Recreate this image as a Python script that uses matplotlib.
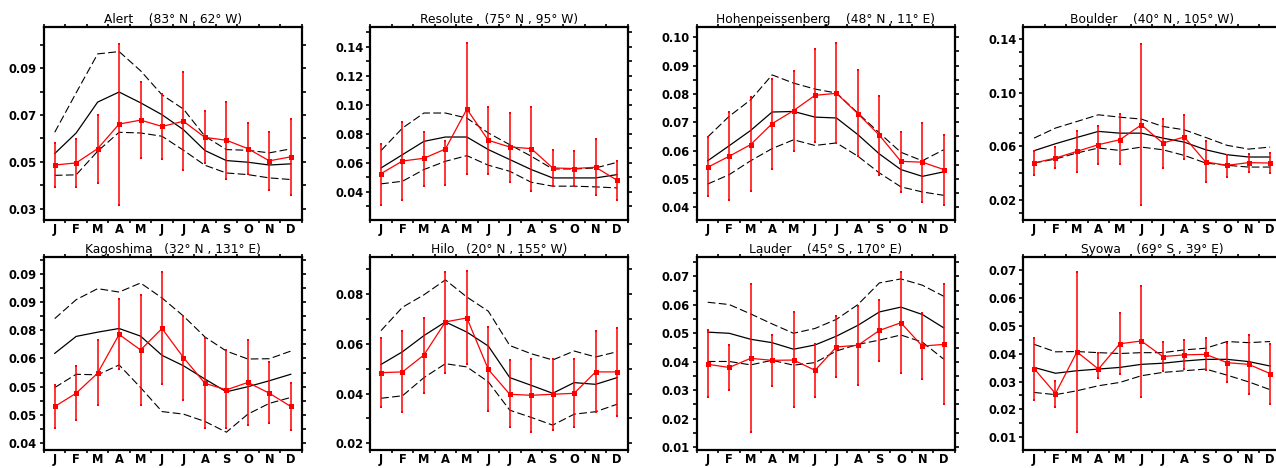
import numpy as np
import matplotlib
matplotlib.use("Agg")
import matplotlib.pyplot as plt
from matplotlib.ticker import FixedLocator, MultipleLocator

months = ["J", "F", "M", "A", "M", "J", "J", "A", "S", "O", "N", "D"]

titles = [
    "Alert    (83\u00b0 N , 62\u00b0 W)",
    "Resolute   (75\u00b0 N , 95\u00b0 W)",
    "Hohenpeissenberg    (48\u00b0 N , 11\u00b0 E)",
    "Boulder    (40\u00b0 N , 105\u00b0 W)",
    "Kagoshima   (32\u00b0 N , 131\u00b0 E)",
    "Hilo   (20\u00b0 N , 155\u00b0 W)",
    "Lauder    (45\u00b0 S , 170\u00b0 E)",
    "Syowa    (69\u00b0 S , 39\u00b0 E)",
]

# model mean (black solid)
model_alert = [0.0535, 0.0623, 0.0755, 0.0798, 0.0752, 0.0701, 0.0637, 0.0548, 0.0505, 0.0498, 0.0486, 0.0491]
model_resolute = [0.0563, 0.0655, 0.0747, 0.0777, 0.0777, 0.0690, 0.0621, 0.0552, 0.0494, 0.0494, 0.0494, 0.0517]
model_hohen = [0.0564, 0.0617, 0.0671, 0.0736, 0.0738, 0.0718, 0.0715, 0.0656, 0.0588, 0.0533, 0.0509, 0.0525]
model_boulder = [0.0566, 0.0618, 0.0665, 0.0710, 0.0697, 0.0697, 0.0660, 0.0630, 0.0573, 0.0536, 0.0519, 0.0519]
model_kago = [0.0718, 0.0778, 0.0793, 0.0806, 0.0779, 0.0711, 0.0674, 0.0627, 0.0582, 0.0600, 0.0621, 0.0644]
model_hilo = [0.0517, 0.0568, 0.0633, 0.0688, 0.0647, 0.0591, 0.0464, 0.0433, 0.0401, 0.0444, 0.0437, 0.0464]
model_lauder = [0.0504, 0.0500, 0.0479, 0.0467, 0.0444, 0.0459, 0.0490, 0.0528, 0.0575, 0.0592, 0.0566, 0.0519]
model_syowa = [0.0351, 0.0330, 0.0339, 0.0345, 0.0351, 0.0362, 0.0366, 0.0374, 0.0380, 0.0380, 0.0372, 0.0356]

# model upper envelope (dashed)
upper_alert = [0.0626, 0.0795, 0.0961, 0.0971, 0.0889, 0.0786, 0.0725, 0.0609, 0.0552, 0.0549, 0.0538, 0.0555]
upper_resolute = [0.0683, 0.0839, 0.0943, 0.0943, 0.0908, 0.0805, 0.0724, 0.0644, 0.0556, 0.0556, 0.0563, 0.0602]
upper_hohen = [0.0648, 0.0721, 0.0779, 0.0867, 0.0838, 0.0817, 0.0803, 0.0732, 0.0662, 0.0594, 0.0564, 0.0603]
upper_boulder = [0.0660, 0.0735, 0.0784, 0.0834, 0.0816, 0.0802, 0.0747, 0.0722, 0.0665, 0.0606, 0.0578, 0.0593]
upper_kago = [0.0841, 0.0908, 0.0947, 0.0935, 0.0967, 0.0914, 0.0850, 0.0776, 0.0726, 0.0698, 0.0699, 0.0726]
upper_hilo = [0.0653, 0.0747, 0.0797, 0.0857, 0.0788, 0.0731, 0.0593, 0.0560, 0.0535, 0.0571, 0.0547, 0.0568]
upper_lauder = [0.0609, 0.0601, 0.0568, 0.0533, 0.0500, 0.0517, 0.0549, 0.0601, 0.0677, 0.0691, 0.0669, 0.0630]
upper_syowa = [0.0434, 0.0407, 0.0408, 0.0404, 0.0401, 0.0404, 0.0404, 0.0414, 0.0420, 0.0444, 0.0440, 0.0444]

# model lower envelope (dashed)
lower_alert = [0.0442, 0.0444, 0.0545, 0.0626, 0.0623, 0.0609, 0.0549, 0.0485, 0.0452, 0.0445, 0.0431, 0.0424]
lower_resolute = [0.0453, 0.0471, 0.0552, 0.0609, 0.0648, 0.0582, 0.0540, 0.0464, 0.0437, 0.0437, 0.0432, 0.0425]
lower_hohen = [0.0482, 0.0515, 0.0564, 0.0607, 0.0638, 0.0618, 0.0627, 0.0580, 0.0521, 0.0472, 0.0454, 0.0442]
lower_boulder = [0.0474, 0.0504, 0.0549, 0.0586, 0.0568, 0.0593, 0.0573, 0.0531, 0.0474, 0.0457, 0.0444, 0.0444]
lower_kago = [0.0597, 0.0644, 0.0642, 0.0677, 0.0597, 0.0512, 0.0503, 0.0477, 0.0439, 0.0503, 0.0541, 0.0562]
lower_hilo = [0.0381, 0.0391, 0.0464, 0.0520, 0.0507, 0.0447, 0.0333, 0.0304, 0.0273, 0.0317, 0.0327, 0.0357]
lower_lauder = [0.0401, 0.0401, 0.0389, 0.0405, 0.0388, 0.0397, 0.0438, 0.0461, 0.0476, 0.0494, 0.0469, 0.0409]
lower_syowa = [0.0261, 0.0253, 0.0267, 0.0285, 0.0297, 0.0321, 0.0333, 0.0339, 0.0345, 0.0323, 0.0299, 0.0271]

# observations (red)
obs_alert = [0.0486, 0.0495, 0.0556, 0.0661, 0.0678, 0.0651, 0.0673, 0.0604, 0.0592, 0.0556, 0.0504, 0.0521]
obs_resolute = [0.0524, 0.0611, 0.0630, 0.0694, 0.0970, 0.0754, 0.0708, 0.0697, 0.0563, 0.0559, 0.0568, 0.0478]
obs_hohen = [0.0541, 0.0580, 0.0621, 0.0695, 0.0741, 0.0795, 0.0802, 0.0730, 0.0654, 0.0562, 0.0559, 0.0533]
obs_boulder = [0.0474, 0.0511, 0.0561, 0.0611, 0.0648, 0.0759, 0.0623, 0.0668, 0.0482, 0.0457, 0.0477, 0.0474]
obs_kago = [0.0530, 0.0577, 0.0648, 0.0785, 0.0730, 0.0806, 0.0703, 0.0612, 0.0589, 0.0615, 0.0577, 0.0530]
obs_hilo = [0.0484, 0.0487, 0.0555, 0.0688, 0.0704, 0.0497, 0.0397, 0.0393, 0.0397, 0.0401, 0.0487, 0.0487]
obs_lauder = [0.0391, 0.0380, 0.0412, 0.0405, 0.0406, 0.0370, 0.0452, 0.0458, 0.0510, 0.0537, 0.0455, 0.0461]
obs_syowa = [0.0347, 0.0257, 0.0407, 0.0345, 0.0436, 0.0446, 0.0390, 0.0396, 0.0398, 0.0368, 0.0362, 0.0329]

# observation ranges (top / bottom of error bars)
hi_alert = [0.0579, 0.0597, 0.0698, 0.1005, 0.0843, 0.0789, 0.0883, 0.0718, 0.0755, 0.0664, 0.0626, 0.0683]
lo_alert = [0.0391, 0.0394, 0.0411, 0.0317, 0.0515, 0.0512, 0.0465, 0.0495, 0.0427, 0.0448, 0.0380, 0.0360]
hi_resolute = [0.0731, 0.0883, 0.0814, 0.0752, 0.1425, 0.0984, 0.0945, 0.0984, 0.0687, 0.0682, 0.0763, 0.0614]
lo_resolute = [0.0310, 0.0340, 0.0441, 0.0448, 0.0522, 0.0524, 0.0467, 0.0407, 0.0441, 0.0441, 0.0379, 0.0340]
hi_hohen = [0.0647, 0.0735, 0.0788, 0.0852, 0.0881, 0.0959, 0.0978, 0.0885, 0.0791, 0.0667, 0.0696, 0.0656]
lo_hohen = [0.0439, 0.0427, 0.0456, 0.0536, 0.0597, 0.0629, 0.0627, 0.0580, 0.0515, 0.0454, 0.0419, 0.0409]
hi_boulder = [0.0561, 0.0591, 0.0715, 0.0754, 0.0839, 0.1365, 0.0804, 0.0834, 0.0635, 0.0536, 0.0544, 0.0549]
lo_boulder = [0.0387, 0.0437, 0.0407, 0.0469, 0.0464, 0.0162, 0.0440, 0.0502, 0.0335, 0.0370, 0.0405, 0.0397]
hi_kago = [0.0607, 0.0675, 0.0765, 0.0911, 0.0926, 0.1007, 0.0850, 0.0772, 0.0729, 0.0766, 0.0686, 0.0614]
lo_kago = [0.0454, 0.0481, 0.0536, 0.0661, 0.0534, 0.0608, 0.0553, 0.0454, 0.0453, 0.0465, 0.0470, 0.0446]
hi_hilo = [0.0624, 0.0651, 0.0704, 0.0887, 0.0891, 0.0667, 0.0533, 0.0540, 0.0537, 0.0540, 0.0651, 0.0664]
lo_hilo = [0.0344, 0.0324, 0.0404, 0.0484, 0.0520, 0.0331, 0.0267, 0.0244, 0.0255, 0.0264, 0.0327, 0.0308]
hi_lauder = [0.0510, 0.0458, 0.0673, 0.0493, 0.0574, 0.0461, 0.0562, 0.0595, 0.0618, 0.0715, 0.0572, 0.0673]
lo_lauder = [0.0275, 0.0302, 0.0152, 0.0316, 0.0242, 0.0277, 0.0345, 0.0319, 0.0403, 0.0359, 0.0341, 0.0251]
hi_syowa = [0.0456, 0.0303, 0.0694, 0.0404, 0.0545, 0.0643, 0.0442, 0.0448, 0.0456, 0.0438, 0.0466, 0.0436]
lo_syowa = [0.0235, 0.0207, 0.0118, 0.0312, 0.0327, 0.0246, 0.0339, 0.0345, 0.0341, 0.0300, 0.0255, 0.0219]

# y-axis tick labels per panel
yt_alert = [0.03, 0.05, 0.07, 0.09]
yt_resolute = [0.02, 0.04, 0.06, 0.08, 0.10, 0.12, 0.14]
yt_hohen = [0.04, 0.05, 0.06, 0.07, 0.08, 0.09, 0.10]
yt_boulder = [0.02, 0.06, 0.10, 0.14]
yt_kago = [0.04, 0.05, 0.06, 0.07, 0.08, 0.09, 0.10]
yl_kago = ["0.04", "0.05", "0.05", "0.06", "0.08", "0.09", "0.09"]
yt_hilo = [0.02, 0.04, 0.06, 0.08]
yt_lauder = [0.01, 0.02, 0.03, 0.04, 0.05, 0.06, 0.07]
yt_syowa = [0.01, 0.02, 0.03, 0.04, 0.05, 0.06, 0.07]

panels = [
    (model_alert, upper_alert, lower_alert, obs_alert, hi_alert, lo_alert, yt_alert, None, (0.0251, 0.1076), 0.01),
    (model_resolute, upper_resolute, lower_resolute, obs_resolute, hi_resolute, lo_resolute, yt_resolute, None, (0.0203, 0.1538), 0.01),
    (model_hohen, upper_hohen, lower_hohen, obs_hohen, hi_hohen, lo_hohen, yt_hohen, None, (0.0355, 0.1036), 0.005),
    (model_boulder, upper_boulder, lower_boulder, obs_boulder, hi_boulder, lo_boulder, yt_boulder, None, (0.0049, 0.1489), 0.01),
    (model_kago, upper_kago, lower_kago, obs_kago, hi_kago, lo_kago, yt_kago, yl_kago, (0.0376, 0.1059), 0.005),
    (model_hilo, upper_hilo, lower_hilo, obs_hilo, hi_hilo, lo_hilo, yt_hilo, None, (0.0173, 0.0949), 0.01),
    (model_lauder, upper_lauder, lower_lauder, obs_lauder, hi_lauder, lo_lauder, yt_lauder, None, (0.0090, 0.0768), 0.005),
    (model_syowa, upper_syowa, lower_syowa, obs_syowa, hi_syowa, lo_syowa, yt_syowa, None, (0.0054, 0.0748), 0.005),
]

W, H = 1276, 468
fig = plt.figure(figsize=(W / 100, H / 100), dpi=100)

col_left = [44.0, 370.3, 697.0, 1023.3]
ax_w = 257.5
row_top = [27.0, 257.0]
ax_h = 193.0

x = np.arange(1, 13)
red = "#ff0000"

for i, (mod, up, lo, obs, hi, low, yt, ylab, ylim, minor) in enumerate(panels):
    r, c = divmod(i, 4)
    left = col_left[c] / W
    bottom = 1 - (row_top[r] + ax_h) / H
    ax = fig.add_axes([left, bottom, ax_w / W, ax_h / H])

    ax.plot(x, up, color="black", lw=0.8, ls=(0, (7, 3)))
    ax.plot(x, lo, color="black", lw=0.8, ls=(0, (7, 3)))
    ax.plot(x, mod, color="black", lw=0.9)
    ax.vlines(x, low, hi, color=red, lw=1.3, alpha=0.85)
    ax.plot(x, hi, "s", color=red, ms=1.8, mew=0)
    ax.plot(x, low, "s", color=red, ms=1.8, mew=0)
    ax.plot(x, obs, "-s", color=red, lw=0.9, ms=3.6, mew=0)

    ax.set_xlim(0.5, 12.5)
    ax.set_ylim(*ylim)
    ax.set_xticks(x)
    ax.set_xticklabels(months)
    ax.xaxis.set_minor_locator(FixedLocator(np.arange(0.5, 13.0, 1.0)))
    ax.tick_params(axis="x", which="major", length=0, pad=2.5)
    ax.tick_params(axis="x", which="minor", length=2.2, width=1.2, direction="out",
                   top=True, bottom=True)
    ax.yaxis.set_major_locator(FixedLocator(yt))
    if ylab is None:
        ax.set_yticklabels(["%.2f" % v for v in yt])
    else:
        ax.set_yticklabels(ylab)
    ax.yaxis.set_minor_locator(MultipleLocator(minor))
    ax.tick_params(axis="y", which="both", length=3.0, width=1.2, direction="out",
                   left=True, right=True, pad=2)
    for lab in ax.get_xticklabels() + ax.get_yticklabels():
        lab.set_fontweight("bold")
        lab.set_fontsize(8.3)
        lab.set_family("DejaVu Sans")
    for sp in ax.spines.values():
        sp.set_linewidth(1.6)
    ax.set_title(titles[i], fontsize=8.8, pad=3, family="DejaVu Sans")

fig.savefig("out.png", dpi=100)
